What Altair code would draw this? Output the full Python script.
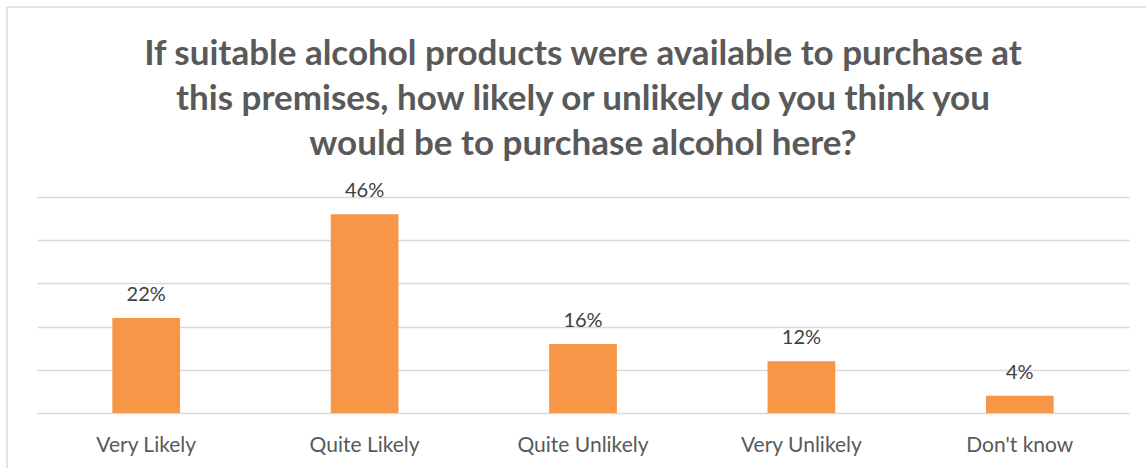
import altair as alt
import pandas as pd

categories = ["Very Likely", "Quite Likely", "Quite Unlikely", "Very Unlikely", "Don't know"]
values = [22, 46, 16, 12, 4]
labels = ["22%", "46%", "16%", "12%", "4%"]

df = pd.DataFrame({"cat": categories, "val": values, "lab": labels})

W, H = 1092, 216
FONT = "Lato"

base = alt.Chart(df).encode(
    x=alt.X("cat:N", sort=categories,
            scale=alt.Scale(paddingInner=0.69, paddingOuter=0.345),
            axis=alt.Axis(title=None, labelAngle=0, ticks=False, domain=False,
                          labelFont=FONT, labelFontSize=21, labelColor="#595959",
                          labelPadding=21)),
)

bars = base.mark_bar(color="#F79646").encode(
    y=alt.Y("val:Q", scale=alt.Scale(domain=[0, 50]),
            axis=alt.Axis(title=None, labels=False, ticks=False, domain=False,
                          values=[0, 10, 20, 30, 40, 50], grid=True,
                          gridColor="#D9D9D9", gridWidth=1.5)),
)

text = base.mark_text(baseline="alphabetic", dy=-17, font=FONT, fontSize=20,
                      color="#404040").encode(
    y=alt.Y("val:Q"),
    text="lab:N",
)

border = alt.Chart(pd.DataFrame({"a": [0]})).mark_rule(
    color="#D9D9D9", strokeWidth=1.5, clip=False)
left_line = border.encode(x=alt.value(-30), y=alt.value(-190), y2=alt.value(H + 60))
top_line = border.encode(x=alt.value(-30), x2=alt.value(W + 30), y=alt.value(-190))

chart = alt.layer(bars, text, left_line, top_line).properties(
    width=W, height=H,
    background="white",
    padding={"left": 37, "top": 197, "right": 17, "bottom": 55},
    autosize=alt.AutoSizeParams(type="none"),
    title=alt.Title(
        ["If suitable alcohol products were available to purchase at",
         "this premises, how likely or unlikely do you think you",
         "would be to purchase alcohol here?"],
        font=FONT, fontSize=35, fontWeight="bold", color="#595959",
        lineHeight=45, anchor="middle", offset=-156),
).configure_view(strokeWidth=0, stroke="transparent")

chart.save("out.html", embed_options={"renderer": "svg", "actions": False})
